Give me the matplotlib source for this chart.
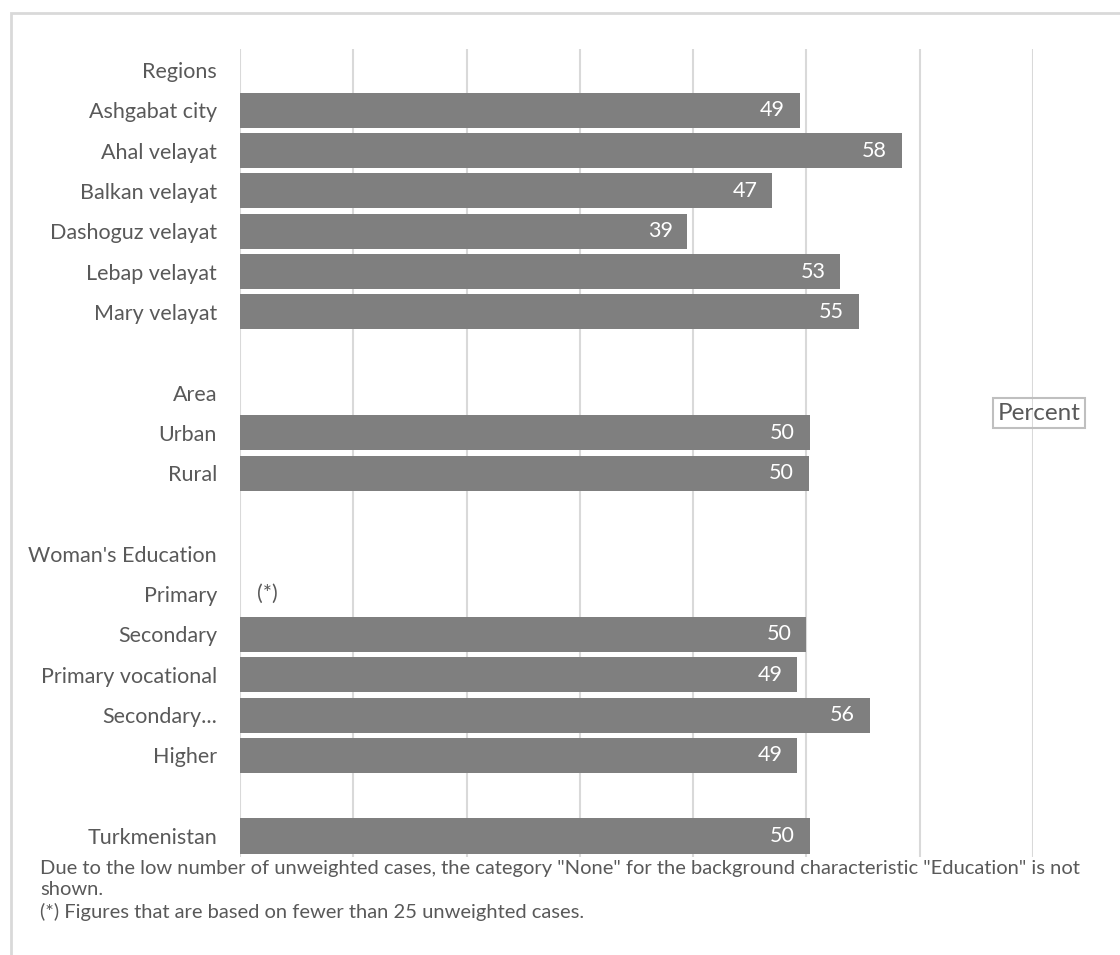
import numpy as np
import matplotlib.pyplot as plt
from matplotlib.patches import Rectangle

# Categories (blank strings are spacer rows / group headings)
labels = ["Regions", "Ashgabat city", "Ahal velayat", "Balkan velayat",
          "Dashoguz velayat", "Lebap velayat", "Mary velayat", "",
          "Area", "Urban", "Rural", "",
          "Woman's Education", "Primary", "Secondary", "Primary vocational",
          "Secondary...", "Higher", "", "Turkmenistan"]
values = [np.nan, 49.4, 58.4, 47.0, 39.5, 53.0, 54.6, np.nan,
          np.nan, 50.3, 50.2, np.nan,
          np.nan, np.nan, 50.0, 49.2, 55.6, 49.2, np.nan, 50.3]
value_text = ["", "49", "58", "47", "39", "53", "55", "",
              "", "50", "50", "",
              "", "(*)", "50", "49", "56", "49", "", "50"]

footnote = ('Due to the low number of unweighted cases, the category "None" for the background characteristic "Education" is not\n'
            'shown.\n'
            '(*) Figures that are based on fewer than 25 unweighted cases.')

plt.rcParams['font.family'] = ['Lato', 'DejaVu Sans']
TXT = '#595959'
BAR = '#7f7f7f'
GRID = '#d9d9d9'
FS = 15.5

fig = plt.figure(figsize=(11.2, 9.55), dpi=100)
ax = fig.add_axes([240 / 1120, 1 - 857 / 955, (1033 - 240) / 1120, (857 - 49) / 955])

y = np.arange(len(labels))
vals = np.array(values, dtype=float)
ax.barh(y, np.nan_to_num(vals), height=0.87, color=BAR, zorder=3)

for yi, v, t in zip(y, vals, value_text):
    if not t:
        continue
    if np.isnan(v):
        ax.text(1.5, yi, t, ha='left', va='center', color=TXT, fontsize=FS)
    else:
        ax.text(v - 1.3, yi, t, ha='right', va='center', color='white', fontsize=FS, zorder=4)

ax.set_xlim(0, 70)
ax.set_ylim(len(labels) - 0.48, -0.52)
ax.set_xticks(np.arange(0, 71, 10))
ax.set_xticklabels([])
ax.set_yticks(y)
ax.set_yticklabels(labels, color=TXT, fontsize=FS)
ax.tick_params(length=0, pad=16.5)
ax.grid(axis='x', color=GRID, linewidth=1.5, zorder=0)
for s in ax.spines.values():
    s.set_visible(False)

fig.text(1039 / 1120, 1 - 413 / 955, 'Percent', ha='center', va='center', color=TXT, fontsize=17.5,
         bbox=dict(boxstyle='square,pad=0.2', facecolor='none', edgecolor='#bfbfbf', linewidth=1.5))

fig.text(40 / 1120, 1 - 860 / 955, footnote, ha='left', va='top', color=TXT, fontsize=14.5, linespacing=1.32)

# outer chart frame (top and left edges only visible)
fig.patches.append(Rectangle((11 / 1120, -0.1), 1.2, 1 - 13 / 955 + 0.1, transform=fig.transFigure,
                             fill=False, edgecolor=GRID, linewidth=2))

fig.savefig('out.png', dpi=100)
